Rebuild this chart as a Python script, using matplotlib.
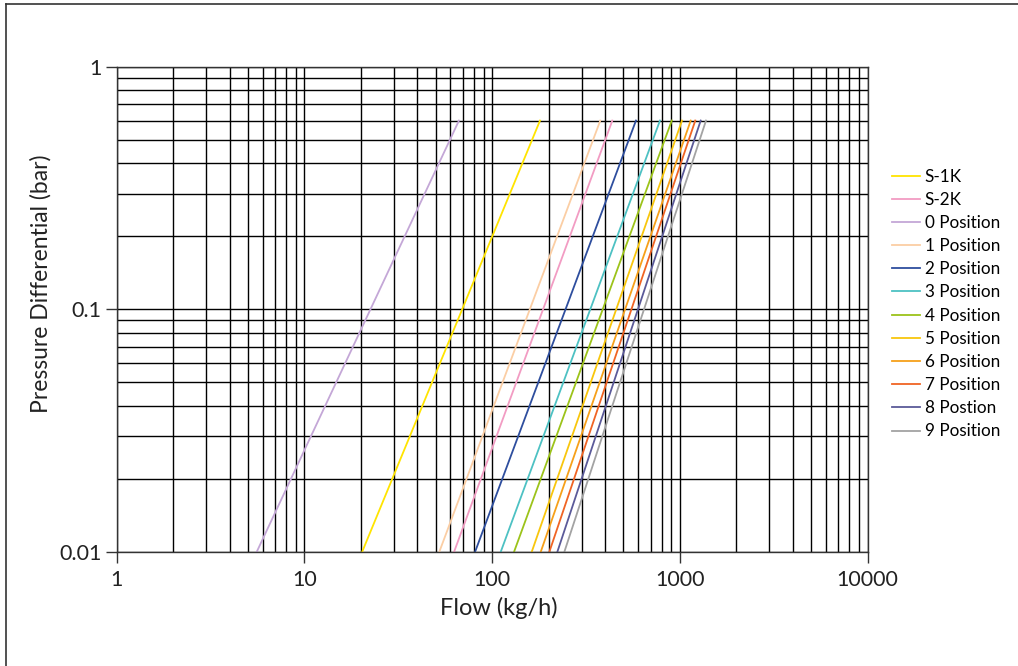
import matplotlib
matplotlib.use("Agg")
import matplotlib.pyplot as plt
from matplotlib.lines import Line2D
from matplotlib.ticker import LogLocator, FixedLocator, NullFormatter

plt.rcParams['font.family'] = ['Lato', 'DejaVu Sans']

# Data: each series is a straight line on log-log axes, read at its two ends
series_names = ["S-1K", "S-2K", "0 Position", "1 Position", "2 Position", "3 Position",
                "4 Position", "5 Position", "6 Position", "7 Position", "8 Postion", "9 Position"]
flow_low = [20.3, 62.7, 5.57, 52.3, 81.1, 111.1, 130.8, 162.5, 181.5, 201.7, 222.5, 242.5]
flow_high = [180, 437, 66.6, 377, 584, 784, 906, 1027, 1143, 1209, 1292, 1379]
dp_low = 0.01
dp_high = 0.6
colors = ["#FFE400", "#F29CC3", "#C4A7D7", "#FBCEA4", "#2E4E9E", "#4DC1C3",
          "#9CC31A", "#F8C60D", "#F6A01A", "#F06424", "#5B5A99", "#A3A3A3"]

x_ticks = [1, 10, 100, 1000, 10000]
x_labels = ["1", "10", "100", "1000", "10000"]
y_ticks = [0.01, 0.1, 1]
y_labels = ["0.01", "0.1", "1"]

fig = plt.figure(figsize=(10.18, 6.66), dpi=100)
ax = fig.add_axes([0.1146, 0.1712, 0.8522 - 0.1146, 0.8998 - 0.1712])
ax.set_xscale('log')
ax.set_yscale('log')
ax.set_xlim(1, 10000)
ax.set_ylim(0.01, 1)

ax.xaxis.set_minor_locator(LogLocator(base=10, subs=range(2, 10)))
ax.yaxis.set_minor_locator(LogLocator(base=10, subs=range(2, 10)))
ax.xaxis.set_minor_formatter(NullFormatter())
ax.yaxis.set_minor_formatter(NullFormatter())
ax.grid(True, which='both', color='black', linewidth=1.0)
ax.set_axisbelow(True)

for name, lo, hi, c in zip(series_names, flow_low, flow_high, colors):
    ax.plot([lo, hi], [dp_low, dp_high], color=c, linewidth=1.3, label=name)

ax.xaxis.set_major_locator(FixedLocator(x_ticks))
ax.set_xticklabels(x_labels)
ax.yaxis.set_major_locator(FixedLocator(y_ticks))
ax.set_yticklabels(y_labels)
ax.tick_params(which='major', direction='out', length=8, width=1.0, color='#333333',
               labelsize=15.5, colors='#222222')
ax.tick_params(which='minor', length=0)
ax.tick_params(axis='x', pad=5)
ax.tick_params(axis='y', pad=3)
for s in ax.spines.values():
    s.set_color('#333333')
    s.set_linewidth(1.0)

ax.set_xlabel("Flow (kg/h)", fontsize=17, color='#222222', va='top')
ax.xaxis.set_label_coords(0.5085, -0.093)
ax.set_ylabel("Pressure Differential (bar)", fontsize=16.5, color='#222222')
ax.yaxis.set_label_coords(-0.087, 0.552)

ax.legend(loc='center left', bbox_to_anchor=(1.033, 0.511), frameon=False, fontsize=12.3,
          handlelength=1.6, handletextpad=0.3, labelspacing=0.42, borderaxespad=0,
          borderpad=0)

# outer frame (left and top edges visible)
fig.add_artist(Line2D([5.5 / 1018, 5.5 / 1018], [0, 1 - 4 / 666], transform=fig.transFigure,
                      color='#333333', linewidth=1.2))
fig.add_artist(Line2D([5.5 / 1018, 1], [1 - 4 / 666, 1 - 4 / 666], transform=fig.transFigure,
                      color='#333333', linewidth=1.2))

fig.savefig("out.png", dpi=100)
